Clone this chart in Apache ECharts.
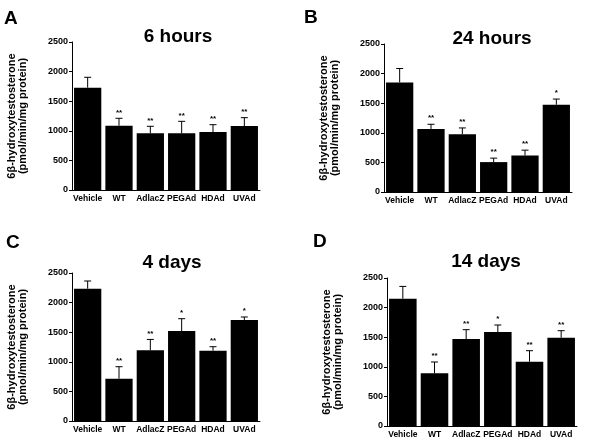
<!DOCTYPE html>
<html>
<head>
<meta charset="utf-8">
<script src="https://cdn.jsdelivr.net/npm/echarts@6/dist/echarts.min.js"></script>
<style>html,body{margin:0;padding:0;background:#fff}#c{width:600px;height:446px}</style>
</head>
<body>
<div id="c"></div>
<script>
var categories = ['Vehicle', 'WT', 'AdlacZ', 'PEGAd', 'HDAd', 'UVAd'];
var yTicks = [0, 500, 1000, 1500, 2000, 2500];

var panelLetters = ['A', 'B', 'C', 'D'];
var panelTitles = ['6 hours', '24 hours', '4 days', '14 days'];

var meanA = [1728, 1086, 957, 957, 980, 1081];
var errA  = [1904, 1211, 1076, 1160, 1103, 1222];
var sigA  = ['', '**', '**', '**', '**', '**'];

var meanB = [1851, 1065, 976, 505, 616, 1474];
var errB  = [2086, 1144, 1082, 572, 707, 1570];
var sigB  = ['', '**', '**', '**', '**', '*'];

var meanC = [2235, 715, 1193, 1520, 1188, 1706];
var errC  = [2365, 917, 1378, 1728, 1255, 1757];
var sigC  = ['', '**', '**', '*', '**', '*'];

var meanD = [2150, 889, 1470, 1588, 1086, 1492];
var errD  = [2358, 1081, 1627, 1706, 1272, 1610];
var sigD  = ['', '**', '**', '*', '**', '**'];

var means = [meanA, meanB, meanC, meanD];
var errs = [errA, errB, errC, errD];
var sigs = [sigA, sigB, sigC, sigD];

var FONT = '"Liberation Sans", Arial, Helvetica, sans-serif';

var grids = [
  {left: 72, top: 42, width: 188, height: 148},
  {left: 384, top: 44, width: 188, height: 148},
  {left: 72, top: 273, width: 188, height: 148},
  {left: 387, top: 278, width: 190, height: 148}
];
var titlePos = [[178, 37], [492, 39], [172, 263], [486, 262]];
var letterPos = [[4, 9], [304, 8], [6, 233], [313, 232]];

var xAxes = [], yAxes = [], series = [], graphics = [];
for (var p = 0; p < 4; p++) {
  xAxes.push({
    type: 'category', gridIndex: p, data: categories,
    axisLine: {show: true, lineStyle: {color: '#000', width: 1}},
    axisTick: {show: false},
    axisLabel: {color: '#000', fontFamily: FONT, fontWeight: 'bold', fontSize: 8.5, margin: 4, interval: 0}
  });
  yAxes.push({
    type: 'value', gridIndex: p, min: yTicks[0], max: yTicks[yTicks.length - 1], interval: 500,
    name: '6\u03b2-hydroxytestosterone\n(pmol/min/mg protein)',
    nameLocation: 'middle', nameGap: 44,
    nameTextStyle: {color: '#000', fontFamily: FONT, fontWeight: 'bold', fontSize: 11, lineHeight: 11},
    axisLine: {show: true, lineStyle: {color: '#000', width: 1}},
    axisTick: {show: true, inside: false, length: 3, lineStyle: {color: '#000'}},
    splitLine: {show: false},
    axisLabel: {color: '#000', fontFamily: FONT, fontWeight: 'bold', fontSize: 9, margin: 4,
      formatter: function (v) { return String(v); }}
  });
  series.push({
    type: 'bar', xAxisIndex: p, yAxisIndex: p, data: means[p],
    barCategoryGap: '13%', itemStyle: {color: '#000'}, silent: true, animation: false
  });
  (function (pi) {
    var ed = categories.map(function (c, i) { return [i, means[pi][i], errs[pi][i], sigs[pi][i]]; });
    series.push({
      type: 'custom', xAxisIndex: pi, yAxisIndex: pi, data: ed, animation: false, silent: true, z: 5,
      renderItem: function (params, api) {
        var x = api.coord([api.value(0), api.value(1)]);
        var hi = api.coord([api.value(0), api.value(2)]);
        var cap = 3.5;
        var s = ed[params.dataIndex][3];
        return {
          type: 'group',
          children: [
            {type: 'line', shape: {x1: x[0], y1: x[1], x2: hi[0], y2: hi[1]}, style: {stroke: '#000', lineWidth: 1}},
            {type: 'line', shape: {x1: hi[0] - cap, y1: hi[1], x2: hi[0] + cap, y2: hi[1]}, style: {stroke: '#000', lineWidth: 1}},
            {type: 'text', x: hi[0], y: hi[1] - 2, style: {text: s, fill: '#000', font: 'bold 8px ' + FONT, align: 'center', verticalAlign: 'bottom'}}
          ]
        };
      }
    });
  })(p);
  graphics.push({
    type: 'text', x: titlePos[p][0], y: titlePos[p][1],
    style: {text: panelTitles[p], fill: '#000', font: 'bold 19px ' + FONT, align: 'center', verticalAlign: 'middle'}
  });
  graphics.push({
    type: 'text', x: letterPos[p][0], y: letterPos[p][1],
    style: {text: panelLetters[p], fill: '#000', font: 'bold 19px ' + FONT, align: 'left', verticalAlign: 'top'}
  });
}

var chart = echarts.init(document.getElementById('c'), null, {renderer: 'canvas'});
chart.setOption({
  backgroundColor: '#fff',
  animation: false,
  grid: grids,
  xAxis: xAxes,
  yAxis: yAxes,
  series: series,
  graphic: graphics
});
</script>
</body>
</html>
